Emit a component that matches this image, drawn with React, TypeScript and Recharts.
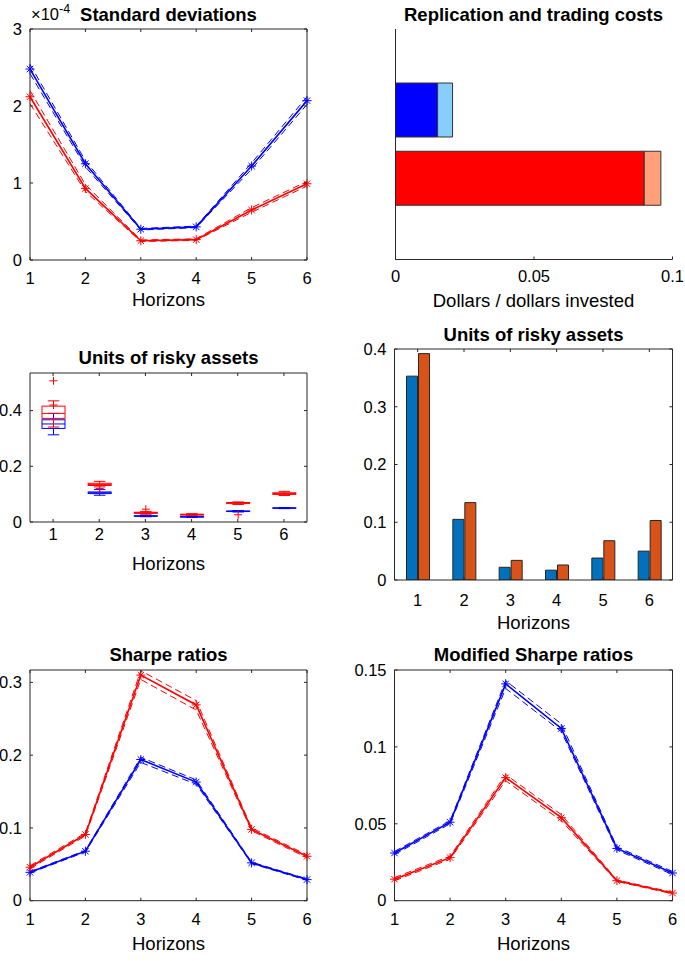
import React from 'react';
import { LineChart, Line, BarChart, Bar, Cell, XAxis, YAxis } from 'recharts';

const FONT = '"Liberation Sans", Arial, Helvetica, sans-serif';
const AXIS = '#262626';
const BLUE = '#0000ff';
const RED = '#ff0000';

const horizons = [1, 2, 3, 4, 5, 6];

// Standard deviations (x 1e-4)
const sdBlue = [2.48, 1.25, 0.4, 0.43, 1.22, 2.07];
const sdBlueHi = [2.54, 1.29, 0.41, 0.44, 1.26, 2.12];
const sdBlueLo = [2.42, 1.21, 0.39, 0.42, 1.18, 2.02];
const sdRed = [2.12, 0.93, 0.25, 0.265, 0.65, 0.99];
const sdRedHi = [2.2, 0.98, 0.26, 0.275, 0.68, 1.02];
const sdRedLo = [2.03, 0.89, 0.24, 0.255, 0.62, 0.96];

// Replication and trading costs
const costNames = ['blue', 'red'];
const replication = [0.0152, 0.0898];
const trading = [0.0054, 0.006];
const replColors = [BLUE, RED];
const tradeColors = ['#87cefa', '#ffa07a'];

// Units of risky assets, box stats: [low whisker, q1, median, q3, high whisker]
const redBox = [
  [0.341, 0.372, 0.39, 0.416, 0.435],
  [0.126, 0.131, 0.135, 0.139, 0.146],
  [0.028, 0.031, 0.033, 0.035, 0.038],
  [0.023, 0.025, 0.0265, 0.028, 0.03],
  [0.063, 0.066, 0.068, 0.07, 0.072],
  [0.095, 0.099, 0.102, 0.105, 0.11],
];
const redOutliers = [[0.507, 0.42], [0.12], [0.046], [], [0.026], []];
const blueBox = [
  [0.313, 0.336, 0.352, 0.367, 0.39],
  [0.096, 0.102, 0.105, 0.108, 0.117],
  [0.019, 0.0205, 0.0215, 0.0225, 0.024],
  [0.016, 0.0175, 0.0185, 0.0195, 0.021],
  [0.036, 0.0375, 0.0385, 0.0395, 0.041],
  [0.048, 0.049, 0.05, 0.051, 0.052],
];

// Units of risky assets, bars
const unitsBlue = [0.353, 0.105, 0.022, 0.017, 0.038, 0.05];
const unitsOrange = [0.392, 0.134, 0.034, 0.026, 0.068, 0.103];

// Sharpe ratios
const srBlue = [0.039, 0.068, 0.194, 0.163, 0.052, 0.029];
const srBlueHi = [0.04, 0.069, 0.197, 0.166, 0.053, 0.03];
const srBlueLo = [0.038, 0.067, 0.19, 0.16, 0.051, 0.028];
const srRed = [0.046, 0.091, 0.31, 0.269, 0.098, 0.061];
const srRedHi = [0.048, 0.093, 0.316, 0.275, 0.1, 0.063];
const srRedLo = [0.044, 0.089, 0.304, 0.262, 0.096, 0.059];

// Modified Sharpe ratios
const msrBlue = [0.031, 0.051, 0.141, 0.112, 0.034, 0.018];
const msrBlueHi = [0.032, 0.052, 0.143, 0.115, 0.035, 0.019];
const msrBlueLo = [0.03, 0.05, 0.138, 0.11, 0.033, 0.017];
const msrRed = [0.014, 0.028, 0.08, 0.054, 0.013, 0.005];
const msrRedHi = [0.015, 0.029, 0.082, 0.056, 0.0135, 0.0055];
const msrRedLo = [0.013, 0.027, 0.078, 0.052, 0.0125, 0.0045];

const lineRows = (b: number[], bh: number[], bl: number[], r: number[], rh: number[], rl: number[]) =>
  horizons.map((h, i) => ({ h, b: b[i], bh: bh[i], bl: bl[i], r: r[i], rh: rh[i], rl: rl[i] }));

const xTick = (plotH: number, gap: number, topTicks = true) => (p: any) => (
  <g>
    <line x1={p.x} y1={p.y} x2={p.x} y2={p.y - 3} stroke={AXIS} />
    {topTicks && <line x1={p.x} y1={p.y - plotH} x2={p.x} y2={p.y - plotH + 3} stroke={AXIS} />}
    <text x={p.x} y={p.y + gap} dy="0.35em" textAnchor="middle" fontSize={16.5} fontFamily={FONT} fill="#000">
      {String(p.payload.value)}
    </text>
  </g>
);

const yTick = (plotW: number) => (p: any) => (
  <g>
    <line x1={p.x} y1={p.y} x2={p.x + 3} y2={p.y} stroke={AXIS} />
    <line x1={p.x + plotW} y1={p.y} x2={p.x + plotW - 3} y2={p.y} stroke={AXIS} />
    <text x={p.x - 8} y={p.y} dy="0.35em" textAnchor="end" fontSize={16.5} fontFamily={FONT} fill="#000">
      {String(p.payload.value)}
    </text>
  </g>
);

// frame lines on the top and right (axes without ticks)
const frameAxes = () => [
  <XAxis key="ft" xAxisId="top" orientation="top" height={1} tick={false} tickLine={false} axisLine={{ stroke: AXIS }} />,
  <YAxis key="fr" yAxisId="right" orientation="right" width={1} tick={false} tickLine={false} axisLine={{ stroke: AXIS }} />,
];

const starDot = (color: string) => (p: any) => {
  const { cx, cy, index } = p;
  if (cx == null || cy == null) return <g key={`e${index}`} />;
  const r = 4.5;
  const d = 3.2;
  return (
    <g key={`s${index}`} stroke={color} strokeWidth={1}>
      <line x1={cx - r} y1={cy} x2={cx + r} y2={cy} />
      <line x1={cx} y1={cy - r} x2={cx} y2={cy + r} />
      <line x1={cx - d} y1={cy - d} x2={cx + d} y2={cy + d} />
      <line x1={cx - d} y1={cy + d} x2={cx + d} y2={cy - d} />
    </g>
  );
};

const boxShape = (color: string, key: string, outKey?: string) => (p: any) => {
  const { x, y, width, height, payload } = p;
  const [lo, q1, md, q3, hi] = payload[key];
  const top = Math.min(y, y + height);
  const k = Math.abs(height) / (hi - lo);
  const py = (v: number) => top + (hi - v) * k;
  const cx = x + width / 2;
  const cap = width / 4;
  const outs: number[] = outKey ? payload[outKey] : [];
  return (
    <g stroke={color} strokeWidth={1} fill="none">
      <line x1={cx} y1={py(hi)} x2={cx} y2={py(q3)} />
      <line x1={cx} y1={py(q1)} x2={cx} y2={py(lo)} />
      <line x1={cx - cap} y1={py(hi)} x2={cx + cap} y2={py(hi)} />
      <line x1={cx - cap} y1={py(lo)} x2={cx + cap} y2={py(lo)} />
      <rect x={x} y={py(q3)} width={width} height={py(q1) - py(q3)} />
      <line x1={x} y1={py(md)} x2={x + width} y2={py(md)} />
      {outs.map((v, i) => (
        <g key={i}>
          <line x1={cx - 4} y1={py(v)} x2={cx + 4} y2={py(v)} />
          <line x1={cx} y1={py(v) - 4} x2={cx} y2={py(v) + 4} />
        </g>
      ))}
    </g>
  );
};

// margin is given to the plot edge; one pixel each is taken by the frame axes
function LinePanel({ x, y, w, h, margin, rows, yDomain, yTicks, tickGap }: any) {
  const plotW = w - margin.left - margin.right - 30;
  const plotH = h - margin.top - margin.bottom - 30;
  const m = { ...margin, top: margin.top - 1, right: margin.right - 1 };
  return (
    <div style={{ position: 'absolute', left: x, top: y }}>
      <LineChart width={w} height={h} data={rows} margin={m}>
        <XAxis dataKey="h" type="number" domain={[1, 6]} ticks={horizons} interval={0} height={30}
          tickSize={0} tickMargin={0} tickLine={false} axisLine={{ stroke: AXIS }} tick={xTick(plotH, tickGap)} />
        <YAxis type="number" domain={yDomain} ticks={yTicks} allowDataOverflow interval={0} width={30}
          tickSize={0} tickMargin={0} tickLine={false} axisLine={{ stroke: AXIS }} tick={yTick(plotW)} />
        {frameAxes()}
        <Line dataKey="bh" stroke={BLUE} strokeWidth={1} strokeDasharray="7 4" dot={false} activeDot={false} isAnimationActive={false} />
        <Line dataKey="bl" stroke={BLUE} strokeWidth={1} strokeDasharray="7 4" dot={false} activeDot={false} isAnimationActive={false} />
        <Line dataKey="rh" stroke={RED} strokeWidth={1} strokeDasharray="7 4" dot={false} activeDot={false} isAnimationActive={false} />
        <Line dataKey="rl" stroke={RED} strokeWidth={1} strokeDasharray="7 4" dot={false} activeDot={false} isAnimationActive={false} />
        <Line dataKey="b" stroke={BLUE} strokeWidth={1.6} dot={starDot(BLUE)} activeDot={false} isAnimationActive={false} />
        <Line dataKey="r" stroke={RED} strokeWidth={1.6} dot={starDot(RED)} activeDot={false} isAnimationActive={false} />
      </LineChart>
    </div>
  );
}

function CostPanel() {
  const rows = costNames.map((name, i) => ({ name, repl: replication[i], trade: trading[i] }));
  return (
    <div style={{ position: 'absolute', left: 340, top: 0 }}>
      <BarChart width={345} height={320} data={rows} layout="vertical" margin={{ top: 29, right: 12.5, left: 54.5, bottom: 30.5 }}>
        <XAxis type="number" domain={[0, 0.1]} ticks={[0, 0.05, 0.1]} allowDataOverflow interval={0} height={30}
          tickSize={0} tickMargin={0} tickLine={false} axisLine={{ stroke: AXIS }} tick={xTick(230.5, 17, false)} />
        <YAxis type="category" dataKey="name" width={1} tick={false} tickLine={false} axisLine={{ stroke: AXIS }}
          padding={{ top: 47, bottom: 47 }} />
        <Bar dataKey="repl" stackId="c" barSize={54} stroke="#333" strokeWidth={1} isAnimationActive={false}>
          {rows.map((_, i) => <Cell key={i} fill={replColors[i]} />)}
        </Bar>
        <Bar dataKey="trade" stackId="c" barSize={54} stroke="#333" strokeWidth={1} isAnimationActive={false}>
          {rows.map((_, i) => <Cell key={i} fill={tradeColors[i]} />)}
        </Bar>
      </BarChart>
    </div>
  );
}

function BoxPanel() {
  const rows = horizons.map((h, i) => ({ h, red: redBox[i], blue: blueBox[i], out: redOutliers[i] }));
  return (
    <div style={{ position: 'absolute', left: 0, top: 320 }}>
      <BarChart width={340} height={320} data={rows} margin={{ top: 52, right: 32, left: 0, bottom: 88 }}>
        <XAxis dataKey="h" interval={0} height={30} tickSize={0} tickMargin={0} tickLine={false}
          axisLine={{ stroke: AXIS }} tick={xTick(149, 12, true)} />
        <XAxis xAxisId="b" dataKey="h" hide />
        <YAxis type="number" domain={[0, 0.535]} ticks={[0, 0.2, 0.4]} allowDataOverflow interval={0} width={30}
          tickSize={0} tickMargin={0} tickLine={false} axisLine={{ stroke: AXIS }} tick={yTick(277)} />
        {frameAxes()}
        <Bar xAxisId="b" dataKey={(d: any) => [d.blue[0], d.blue[4]]} barSize={23} isAnimationActive={false}
          shape={boxShape(BLUE, 'blue')} />
        <Bar dataKey={(d: any) => [d.red[0], d.red[4]]} barSize={23} isAnimationActive={false}
          shape={boxShape(RED, 'red', 'out')} />
      </BarChart>
    </div>
  );
}

function UnitsBarPanel() {
  const rows = horizons.map((h, i) => ({ h, blue: unitsBlue[i], orange: unitsOrange[i] }));
  return (
    <div style={{ position: 'absolute', left: 340, top: 320 }}>
      <BarChart width={345} height={320} data={rows} margin={{ top: 28, right: 11.5, left: 24.5, bottom: 30 }}
        barGap={1}>
        <XAxis dataKey="h" interval={0} height={30} tickSize={0} tickMargin={0} tickLine={false}
          axisLine={{ stroke: AXIS }} tick={xTick(231, 20, true)} />
        <YAxis type="number" domain={[0, 0.4]} ticks={[0, 0.1, 0.2, 0.3, 0.4]} allowDataOverflow interval={0} width={30}
          tickSize={0} tickMargin={0} tickLine={false} axisLine={{ stroke: AXIS }} tick={yTick(278)} />
        {frameAxes()}
        <Bar dataKey="blue" fill="#0072bd" stroke="#262626" strokeWidth={1} barSize={11} isAnimationActive={false} />
        <Bar dataKey="orange" fill="#d95319" stroke="#262626" strokeWidth={1} barSize={11} isAnimationActive={false} />
      </BarChart>
    </div>
  );
}

const Txt = ({ x, y, size = 18.5, bold = false, children }: any) => (
  <div style={{
    position: 'absolute', left: x, top: y, transform: 'translate(-50%, -50%)', whiteSpace: 'nowrap',
    fontFamily: FONT, fontSize: size, fontWeight: bold ? 700 : 400, lineHeight: 1, color: '#000',
  }}>{children}</div>
);

export default function App() {
  return (
    <div style={{ position: 'absolute', left: 0, top: 0, width: 685, height: 961, background: '#fff', overflow: 'hidden' }}>
      <LinePanel x={0} y={0} w={340} h={320} margin={{ top: 29, right: 33, left: 0, bottom: 30 }}
        rows={lineRows(sdBlue, sdBlueHi, sdBlueLo, sdRed, sdRedHi, sdRedLo)} yDomain={[0, 3]} yTicks={[0, 1, 2, 3]} tickGap={18} />
      <CostPanel />
      <BoxPanel />
      <UnitsBarPanel />
      <LinePanel x={0} y={640} w={340} h={321} margin={{ top: 30, right: 33, left: 0, bottom: 30.3 }}
        rows={lineRows(srBlue, srBlueHi, srBlueLo, srRed, srRedHi, srRedLo)} yDomain={[0, 0.317]} yTicks={[0, 0.1, 0.2, 0.3]} tickGap={19} />
      <LinePanel x={340} y={640} w={345} h={321} margin={{ top: 30, right: 12.5, left: 24.5, bottom: 30.3 }}
        rows={lineRows(msrBlue, msrBlueHi, msrBlueLo, msrRed, msrRedHi, msrRedLo)} yDomain={[0, 0.15]} yTicks={[0, 0.05, 0.1, 0.15]} tickGap={19} />

      <div style={{ position: 'absolute', left: 31, top: 6, fontFamily: FONT, fontSize: 16.5, lineHeight: 1, whiteSpace: 'nowrap' }}>
        ×10<span style={{ fontSize: 12.5, position: 'relative', top: -7 }}>-4</span>
      </div>
      <Txt x={168.5} y={15} bold>Standard deviations</Txt>
      <Txt x={168.5} y={299.5}>Horizons</Txt>
      <Txt x={533.5} y={15} bold>Replication and trading costs</Txt>
      <Txt x={533.5} y={301}>Dollars / dollars invested</Txt>
      <Txt x={168.5} y={358} bold>Units of risky assets</Txt>
      <Txt x={168.5} y={564}>Horizons</Txt>
      <Txt x={533.5} y={335} bold>Units of risky assets</Txt>
      <Txt x={533.5} y={622.5}>Horizons</Txt>
      <Txt x={168.5} y={655} bold>Sharpe ratios</Txt>
      <Txt x={168.5} y={944}>Horizons</Txt>
      <Txt x={533.5} y={655} bold>Modified Sharpe ratios</Txt>
      <Txt x={533.5} y={944}>Horizons</Txt>
    </div>
  );
}
